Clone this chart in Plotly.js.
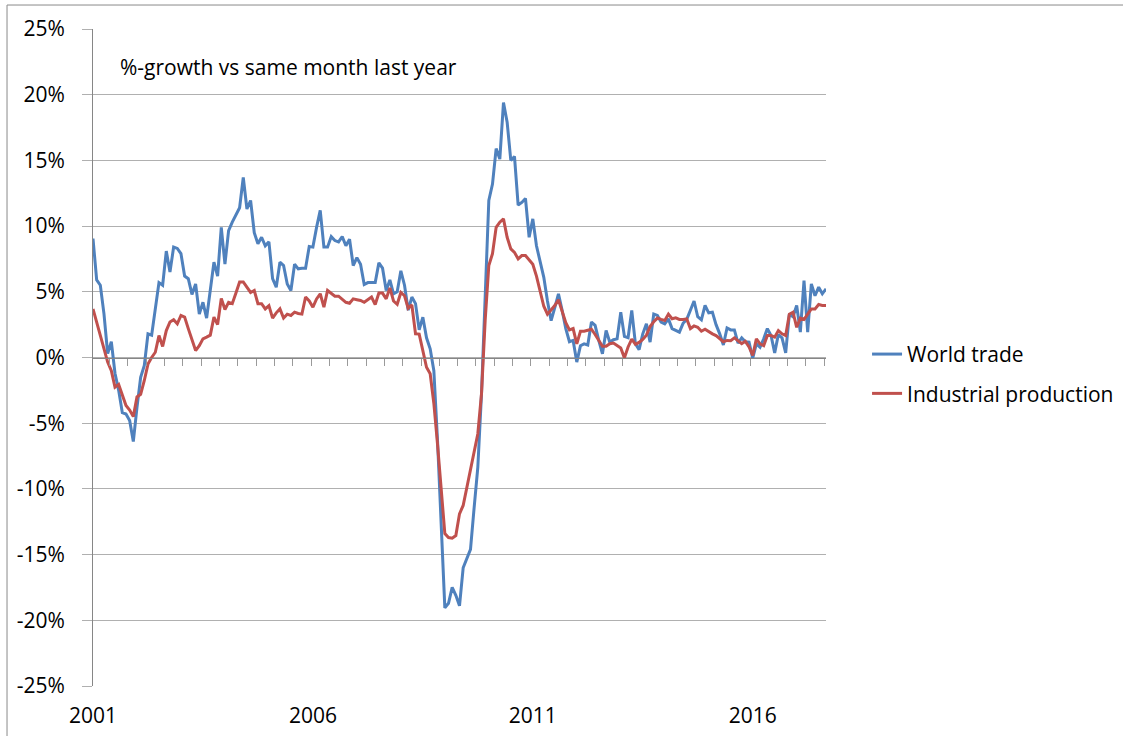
<!DOCTYPE html>
<html>
<head>
<meta charset="utf-8">
<script src="https://cdn.plot.ly/plotly-3.0.1.min.js"></script>
<style>
  html, body { margin: 0; padding: 0; background: #ffffff; overflow: hidden; }
  #chart { width: 1123px; height: 736px; }
</style>
</head>
<body>
<div id="chart"></div>
<script>
// Monthly data, Jan 2001 .. Sep 2017 (%-growth vs same month last year)
const worldTrade = [
  9.05, 5.9, 5.5, 3.3, 0.3, 1.2, -1.2, -2.5, -4.2, -4.3, -4.8, -6.4,
  -3.8, -1.5, -0.6, 1.8, 1.7, 3.6, 5.7, 5.5, 8.1, 6.5, 8.4, 8.3,
  7.9, 6.2, 6.0, 4.8, 5.6, 3.3, 4.2, 3.0, 5.1, 7.25, 6.2, 9.9,
  7.1, 9.65, 10.3, 10.9, 11.4, 13.7, 11.3, 11.95, 9.5, 8.65, 9.15, 8.5,
  8.8, 6.0, 5.35, 7.25, 7.0, 5.6, 5.1, 7.1, 6.75, 6.8, 6.8, 8.45,
  8.4, 9.9, 11.2, 8.4, 8.4, 9.2, 8.9, 8.8, 9.2, 8.5, 9.0, 7.0,
  7.6, 7.1, 5.55, 5.7, 5.7, 5.7, 7.2, 6.8, 5.1, 5.9, 4.85, 5.0,
  6.6, 5.5, 3.6, 4.6, 4.1, 2.1, 3.07, 1.5, 0.66, -1.0, -6.3, -12.9,
  -19.05, -18.7, -17.5, -18.1, -18.9, -16.0, -15.3, -14.6, -11.4, -8.35, -2.8, 4.85,
  11.95, 13.2, 15.9, 15.1, 19.4, 17.9, 15.0, 15.3, 11.6, 11.8, 12.1, 9.15,
  10.55, 8.5, 7.4, 6.1, 4.3, 2.8, 3.8, 4.85, 3.6, 2.2, 1.2, 1.3,
  -0.35, 0.9, 1.04, 0.95, 2.7, 2.45, 1.3, 0.28, 2.05, 1.17, 1.35, 1.42,
  3.45, 1.6, 1.5, 3.58, 1.04, 0.6, 1.8, 2.56, 1.17, 3.3, 3.2, 2.7,
  2.56, 2.94, 2.2, 2.05, 1.93, 2.6, 2.9, 3.6, 4.3, 3.1, 2.87, 3.96,
  3.4, 3.45, 2.5, 1.8, 0.95, 2.25, 2.1, 2.1, 1.1, 1.5, 1.2, 1.17,
  -0.05, 1.04, 0.78, 1.42, 2.2, 1.67, 0.35, 1.75, 1.5, 0.35, 3.3, 3.1,
  3.96, 1.93, 5.86, 1.93, 5.6, 4.7, 5.35, 4.85, 5.23
];
const industrialProduction = [
  3.7, 2.7, 1.67, 0.53, -0.35, -1.0, -2.26, -2.05, -2.9, -3.65, -4.0, -4.5,
  -3.0, -2.8, -1.75, -0.5, 0.0, 0.4, 1.67, 0.84, 2.05, 2.7, 2.87, 2.56,
  3.2, 3.07, 2.2, 1.3, 0.53, 0.9, 1.42, 1.55, 1.7, 3.07, 2.5, 4.5,
  3.65, 4.2, 4.1, 4.9, 5.75, 5.75, 5.3, 4.95, 5.1, 4.1, 4.1, 3.7,
  3.95, 3.0, 3.4, 3.7, 3.0, 3.3, 3.2, 3.45, 3.35, 3.3, 4.6, 4.3,
  3.83, 4.46, 4.85, 3.83, 5.1, 4.85, 4.67, 4.67, 4.46, 4.2, 4.13, 4.46,
  4.4, 4.34, 4.2, 4.4, 4.6, 4.03, 4.9, 4.9, 4.46, 5.3, 4.3, 4.05,
  4.95, 4.7, 3.75, 4.0, 1.8, 1.78, 0.53, -0.74, -1.24, -3.5, -6.6, -9.87,
  -13.4, -13.7, -13.75, -13.55, -11.9, -11.26, -9.87, -8.73, -7.33, -5.8, -2.76, 2.8,
  7.0, 7.9, 9.9, 10.3, 10.55, 9.15, 8.27, 8.0, 7.5, 7.76, 7.76, 7.4,
  7.1, 6.2, 5.0, 3.9, 3.3, 3.6, 3.95, 4.4, 3.6, 2.65, 2.1, 2.2,
  1.04, 2.0, 2.0, 2.05, 2.15, 1.75, 1.35, 0.85, 0.85, 1.05, 1.1, 0.88,
  0.72, -0.03, 0.8, 1.4, 1.0, 1.15, 1.38, 1.7, 2.35, 2.72, 3.0, 2.9,
  2.82, 3.3, 2.95, 3.02, 2.9, 2.9, 2.94, 2.2, 2.4, 2.3, 2.0, 2.15,
  1.95, 1.8, 1.67, 1.43, 1.2, 1.3, 1.28, 1.5, 1.3, 1.06, 1.23, 0.8,
  0.15, 1.42, 1.04, 0.9, 1.67, 1.67, 1.55, 2.05, 1.8, 1.67, 3.3, 3.45,
  2.3, 3.0, 2.9, 3.3, 3.7, 3.7, 4.03, 3.96, 3.96
];
const seriesNames = ['World trade', 'Industrial production'];
const yearLabels = ['2001', '2006', '2011', '2016'];
const yearMonthIndex = [0, 60, 120, 180];
const yTickValues = [-25, -20, -15, -10, -5, 0, 5, 10, 15, 20, 25];
const yTickLabels = ['-25%', '-20%', '-15%', '-10%', '-5%', '0%', '5%', '10%', '15%', '20%', '25%'];
const chartNote = '%-growth vs same month last year';

const monthIndex = worldTrade.map((_, i) => i);
const FONT = '"Open Sans", "Noto Sans", sans-serif';

const traces = [
  {
    x: monthIndex, y: worldTrade, name: seriesNames[0], type: 'scatter', mode: 'lines',
    line: { color: '#4F81BD', width: 3 }, xaxis: 'x', yaxis: 'y', legendgroup: 'a'
  },
  {
    x: monthIndex, y: industrialProduction, name: seriesNames[1], type: 'scatter', mode: 'lines',
    line: { color: '#C0504D', width: 3 }, xaxis: 'x2', yaxis: 'y', legendgroup: 'b'
  }
];

const lastIdx = monthIndex.length - 1;

const layout = {
  width: 1123, height: 736,
  margin: { l: 93, r: 297, t: 29, b: 50, pad: 0, autoexpand: false },
  paper_bgcolor: '#ffffff', plot_bgcolor: '#ffffff',
  font: { family: FONT, size: 21, color: '#000000' },
  showlegend: true,
  legend: {
    x: 1.056, xanchor: 'left', y: 0.475, yanchor: 'middle',
    font: { family: FONT, size: 21, color: '#000000' },
    bgcolor: 'rgba(0,0,0,0)', borderwidth: 0,
    tracegroupgap: 9, itemwidth: 30
  },
  xaxis: {
    range: [0, lastIdx], anchor: 'y',
    tickmode: 'array', tickvals: yearMonthIndex, ticktext: yearLabels,
    ticks: '', showline: false, showgrid: false, zeroline: false,
    ticklabelstandoff: 15,
    tickfont: { family: FONT, size: 21, color: '#000000' }
  },
  xaxis2: {
    range: [0, lastIdx], overlaying: 'x', anchor: 'free', position: 0.5, side: 'bottom',
    tickmode: 'linear', tick0: 4.5, dtick: 5,
    ticks: 'outside', ticklen: 7, tickwidth: 1, tickcolor: '#9a9a9a',
    showticklabels: false, showline: true, linecolor: '#868686', linewidth: 1,
    showgrid: false, zeroline: false
  },
  yaxis: {
    range: [-25, 25], tickmode: 'array', tickvals: yTickValues, ticktext: yTickLabels,
    showgrid: true, gridcolor: '#b0b0b0', gridwidth: 1, zeroline: false,
    showline: true, linecolor: '#868686', linewidth: 1,
    ticks: 'outside', ticklen: 10, tickcolor: '#b0b0b0', tickwidth: 1,
    ticklabelstandoff: 13,
    tickfont: { family: FONT, size: 21, color: '#000000' }
  },
  annotations: [{
    text: chartNote, xref: 'paper', yref: 'paper',
    x: 0.034, xanchor: 'left', y: 0.942, yanchor: 'middle',
    showarrow: false, font: { family: FONT, size: 21, color: '#000000' }
  }],
  shapes: [
    { type: 'line', xref: 'paper', yref: 'paper', x0: -0.1173, x1: -0.1173, y0: -0.2, y1: 1.0365,
      line: { color: '#8a8a8a', width: 1 } },
    { type: 'line', xref: 'paper', yref: 'paper', x0: -0.1173, x1: 1.6, y0: 1.0365, y1: 1.0365,
      line: { color: '#8a8a8a', width: 1 } }
  ]
};

Plotly.newPlot('chart', traces, layout, { staticPlot: true, displayModeBar: false });
</script>
</body>
</html>
